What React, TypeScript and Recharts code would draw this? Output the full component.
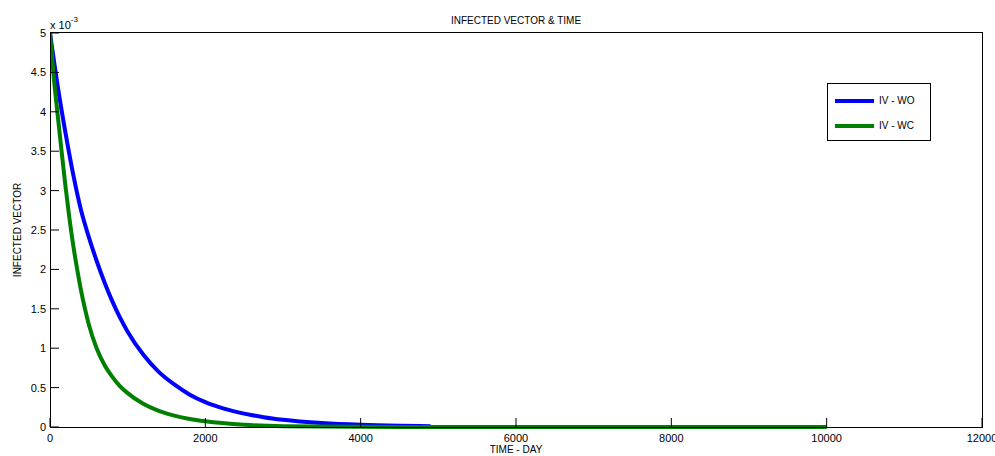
import React from 'react';
import { Line, LineChart, XAxis, YAxis } from 'recharts';

const woTime = [0, 100, 200, 300, 400, 500, 600, 700, 800, 900, 1000, 1200, 1400, 1600, 1800, 2000, 2250, 2500, 2750, 3000, 3500, 4000, 4500, 4900];
const woValue = [5.0, 4.32, 3.73, 3.2, 2.75, 2.41, 2.11, 1.84, 1.6, 1.39, 1.21, 0.92, 0.7, 0.54, 0.41, 0.315, 0.23, 0.17, 0.125, 0.092, 0.05, 0.027, 0.015, 0.01];

const wcTime = [0, 50, 100, 150, 200, 250, 300, 350, 400, 450, 500, 600, 700, 800, 900, 1000, 1200, 1400, 1600, 1800, 2000, 2500, 3000, 4000, 5000, 6000, 8000, 10000];
const wcValue = [5.0, 4.42, 3.95, 3.49, 3.05, 2.65, 2.3, 2.0, 1.73, 1.5, 1.3, 1.0, 0.79, 0.64, 0.52, 0.43, 0.295, 0.205, 0.145, 0.102, 0.072, 0.028, 0.011, 0.002, 0.0005, 0.0001, 0, 0];

const xTicks = [0, 2000, 4000, 6000, 8000, 10000, 12000];
const yTicks = [0, 0.5, 1, 1.5, 2, 2.5, 3, 3.5, 4, 4.5, 5];

const seriesNames = ['IV - WO', 'IV - WC'];
const BLUE = '#0000ff';
const GREEN = '#008000';

const woData = woTime.map((t, i) => ({ t, v: woValue[i] }));
const wcData = wcTime.map((t, i) => ({ t, v: wcValue[i] }));

const font = '"Liberation Sans", Arial, sans-serif';
const TICK = 9;

function BottomTick({ x, y, payload }: any) {
  return (
    <g>
      <line x1={x} x2={x} y1={y} y2={y - TICK} stroke="#000" />
      <text x={x} y={y + 15} textAnchor="middle" fontSize={11} fontFamily={font} fill="#000">
        {payload.value}
      </text>
    </g>
  );
}

function TopTick({ x, y }: any) {
  return <line x1={x} x2={x} y1={y} y2={y + TICK} stroke="#000" />;
}

function LeftTick({ x, y, payload }: any) {
  return (
    <g>
      <line x1={x} x2={x + TICK} y1={y} y2={y} stroke="#000" />
      <text x={x - 4} y={y + 4} textAnchor="end" fontSize={11} fontFamily={font} fill="#000">
        {payload.value}
      </text>
    </g>
  );
}

function RightTick({ x, y }: any) {
  return <line x1={x - TICK} x2={x} y1={y} y2={y} stroke="#000" />;
}

export default function App() {
  return (
    <div style={{ position: 'absolute', left: 0, top: 0, width: 995, height: 456, background: '#fff', fontFamily: font, color: '#000', overflow: 'hidden' }}>
      <LineChart width={995} height={456} margin={{ top: 33, right: 13, bottom: 0, left: 0 }}>
        <XAxis
          dataKey="t"
          type="number"
          domain={[0, 12000]}
          ticks={xTicks}
          height={29}
          tickSize={0}
          tickMargin={0}
          tickLine={false}
          axisLine={false}
          tick={<BottomTick />}
          interval={0}
          allowDataOverflow
        />
        <XAxis
          xAxisId="top"
          orientation="top"
          type="number"
          domain={[0, 12000]}
          ticks={xTicks}
          height={0}
          tickSize={0}
          tickMargin={0}
          tickLine={false}
          axisLine={false}
          tick={<TopTick />}
          interval={0}
        />
        <YAxis
          type="number"
          domain={[0, 5]}
          ticks={yTicks}
          width={50}
          tickSize={0}
          tickMargin={0}
          tickLine={false}
          axisLine={false}
          tick={<LeftTick />}
          interval={0}
        />
        <YAxis
          yAxisId="right"
          orientation="right"
          type="number"
          domain={[0, 5]}
          ticks={yTicks}
          width={0}
          tickSize={0}
          tickMargin={0}
          tickLine={false}
          axisLine={false}
          tick={<RightTick />}
          interval={0}
        />
        <Line
          data={woData}
          dataKey="v"
          type="monotone"
          stroke={BLUE}
          strokeWidth={4}
          dot={false}
          isAnimationActive={false}
        />
        <Line
          data={wcData}
          dataKey="v"
          type="monotone"
          stroke={GREEN}
          strokeWidth={4}
          dot={false}
          isAnimationActive={false}
        />
      </LineChart>

      {/* axes box */}
      <div style={{ position: 'absolute', left: 50, top: 32, width: 931, height: 394, border: '1px solid #000', pointerEvents: 'none' }} />

      <div style={{ position: 'absolute', left: 0, width: 1032, top: 15, textAlign: 'center', fontSize: 10 }}>
        INFECTED VECTOR &amp; TIME
      </div>
      <div style={{ position: 'absolute', left: 50, top: 17, fontSize: 11, whiteSpace: 'nowrap' }}>
        x 10<sup style={{ fontSize: 8, position: 'relative', top: -2 }}>-3</sup>
      </div>
      <div style={{ position: 'absolute', left: 0, width: 1032, top: 444, textAlign: 'center', fontSize: 10 }}>
        TIME - DAY
      </div>
      <div
        style={{
          position: 'absolute',
          left: 17,
          top: 230,
          fontSize: 10,
          whiteSpace: 'nowrap',
          transform: 'translate(-50%, -50%) rotate(-90deg)',
        }}
      >
        INFECTED VECTOR
      </div>

      <div
        style={{
          position: 'absolute',
          left: 827,
          top: 83,
          width: 102,
          height: 56,
          border: '1px solid #000',
          background: '#fff',
          fontSize: 10,
        }}
      >
        {[BLUE, GREEN].map((c, i) => (
          <div key={c} style={{ position: 'absolute', left: 7, top: 11 + i * 25, display: 'flex', alignItems: 'center' }}>
            <div style={{ width: 39, height: 4, background: c }} />
            <span style={{ marginLeft: 5 }}>{seriesNames[i]}</span>
          </div>
        ))}
      </div>
    </div>
  );
}
